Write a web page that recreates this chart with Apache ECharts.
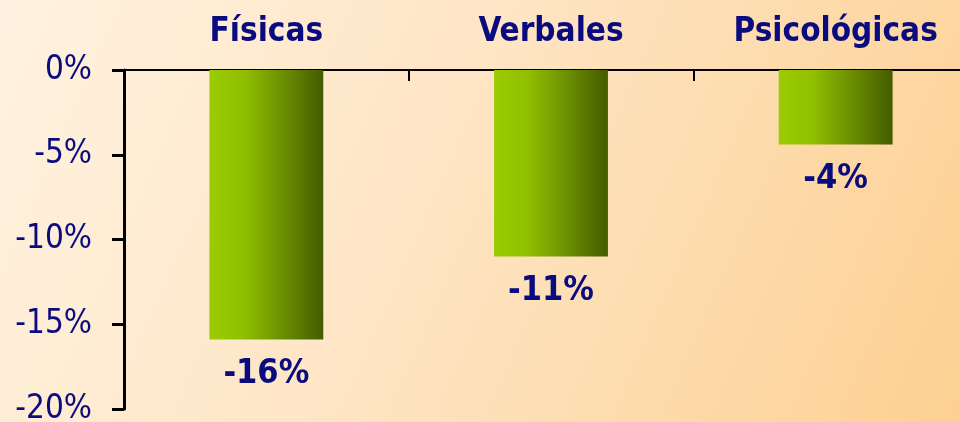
<!DOCTYPE html>
<html>
<head>
<meta charset="utf-8">
<script src="https://cdn.jsdelivr.net/npm/echarts@6/dist/echarts.min.js"></script>
<style>
  html, body { margin: 0; padding: 0; }
  #chart { width: 960px; height: 422px; }
</style>
</head>
<body>
<div id="chart"></div>
<script>
// data
const categories = ['Físicas', 'Verbales', 'Psicológicas']
const values = [-15.9, -11.0, -4.4]
const yTicks = { min: -20, max: 0, step: 5 }

const navy = '#0b0b80'
const font = "'DejaVu Sans Condensed', 'DejaVu Sans'"

var myChart = echarts.init(document.getElementById('chart'))
myChart.setOption({
  backgroundColor: new echarts.graphic.LinearGradient(0, 0, 1, 1, [
    { offset: 0, color: '#fff2e0' },
    { offset: 0.45, color: '#fee5c4' },
    { offset: 1, color: '#fdd092' }
  ]),
  grid: {
    left: 124,
    right: -18,
    top: 70,
    bottom: 13,
    outerBoundsMode: 'none'
  },
  xAxis: {
    type: 'category',
    position: 'top',
    data: categories,
    axisLine: { lineStyle: { color: '#000', width: 2 } },
    axisTick: { show: true, inside: true, length: 11, interval: 0, lineStyle: { color: '#000', width: 2 } },
    axisLabel: {
      margin: 21,
      color: navy,
      fontFamily: font,
      fontWeight: 'bold',
      fontSize: 33
    }
  },
  yAxis: {
    type: 'value',
    min: yTicks.min,
    max: yTicks.max,
    interval: yTicks.step,
    splitLine: { show: false },
    axisLine: { show: true, lineStyle: { color: '#000', width: 3 } },
    axisTick: { show: true, length: 12, lineStyle: { color: '#000', width: 3 } },
    axisLabel: {
      formatter: '{value}%',
      margin: 32,
      color: navy,
      fontFamily: font,
      fontSize: 33
    }
  },
  series: [
    {
      type: 'bar',
      data: values,
      barWidth: '40%',
      itemStyle: {
        color: new echarts.graphic.LinearGradient(0, 0, 1, 0, [
          { offset: 0, color: '#9bcc00' },
          { offset: 0.3, color: '#90bf00' },
          { offset: 0.65, color: '#6a8e00' },
          { offset: 1, color: '#435c00' }
        ])
      },
      label: {
        show: true,
        position: 'bottom',
        distance: 18,
        formatter: p => Math.round(p.value) + '%',
        color: navy,
        fontFamily: font,
        fontWeight: 'bold',
        fontSize: 34
      }
    }
  ]
})
</script>
</body>
</html>
